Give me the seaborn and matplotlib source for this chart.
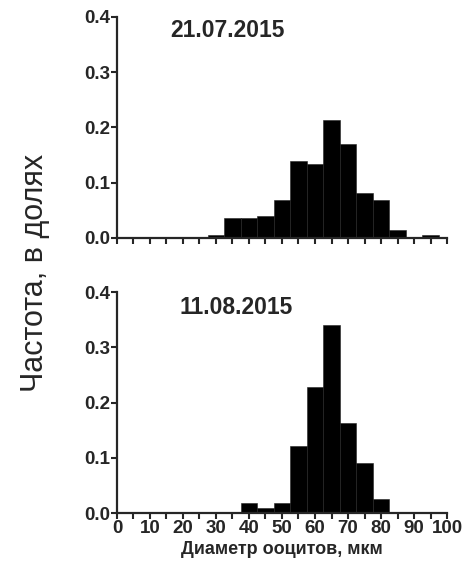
import numpy as np
import pandas as pd
import matplotlib
matplotlib.use("Agg")
import matplotlib.pyplot as plt
import matplotlib.ticker as mticker
import seaborn as sns

# ── Data (bin centres, width 5 µm) ───────────────────────
centers = [0, 5, 10, 15, 20, 25, 30, 35, 40, 45, 50, 55, 60, 65, 70, 75, 80, 85, 90, 95, 100]
freq_jul = [0, 0, 0, 0, 0, 0, 0.005, 0.036, 0.036, 0.040, 0.068, 0.139, 0.134, 0.213,
            0.170, 0.081, 0.068, 0.015, 0, 0.005, 0]
freq_aug = [0, 0, 0, 0, 0, 0, 0, 0, 0.018, 0.009, 0.018, 0.122, 0.228, 0.340,
            0.163, 0.090, 0.025, 0, 0, 0, 0]
dates = ["21.07.2015", "11.08.2015"]
yticks = [0.0, 0.1, 0.2, 0.3, 0.4]

sns.set_style("ticks")
plt.rcParams["font.family"] = ["Liberation Sans", "DejaVu Sans"]

fig = plt.figure(figsize=(4.65, 5.7), dpi=100)
ax_top = fig.add_axes([0.2516, 0.5825, 0.7097, 0.3877])
ax_bot = fig.add_axes([0.2516, 0.1000, 0.7097, 0.3877])

for ax, freq, date, tx, ty in [(ax_top, freq_jul, dates[0], 0.335, 0.94),
                               (ax_bot, freq_aug, dates[1], 0.36, 0.93)]:
    df = pd.DataFrame({"d": centers, "f": freq})
    sns.histplot(data=df, x="d", weights="f", binwidth=5, binrange=(-2.5, 102.5),
                 ax=ax, color="black", alpha=1, edgecolor="#222222", linewidth=0.4)
    ax.set_xlim(0, 100)
    ax.set_ylim(0, 0.4)
    ax.set_yticks(yticks)
    ax.yaxis.set_major_formatter(mticker.FormatStrFormatter("%.1f"))
    ax.xaxis.set_major_locator(mticker.MultipleLocator(10))
    ax.xaxis.set_minor_locator(mticker.MultipleLocator(5))
    ax.tick_params(which="both", direction="out", length=4, width=1.5, pad=1,
                   labelsize=13.5)
    for lab in ax.get_xticklabels() + ax.get_yticklabels():
        lab.set_fontweight("bold")
    for s in ("top", "right"):
        ax.spines[s].set_visible(False)
    for s in ("left", "bottom"):
        ax.spines[s].set_linewidth(1.6)
    ax.set_xlabel("")
    ax.set_ylabel("")
    ax.text(tx, ty, date, transform=ax.transAxes, ha="center", va="center",
            fontsize=16.5, fontweight="bold")

ax_top.tick_params(axis="x", labelbottom=False)
ax_bot.set_xlabel("Диаметр ооцитов, мкм", fontsize=13, fontweight="bold", labelpad=3)

fig.text(0.075, 0.522, "Частота, в долях", rotation=90, ha="center", va="center",
         fontsize=22)

fig.savefig("out.png", dpi=100)
